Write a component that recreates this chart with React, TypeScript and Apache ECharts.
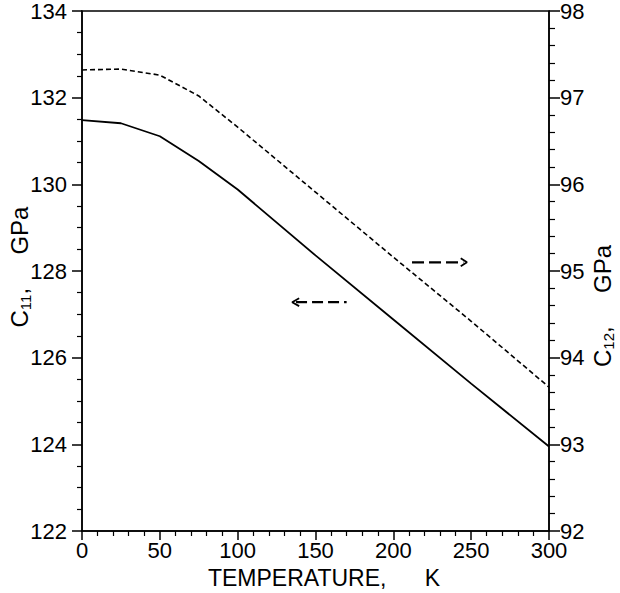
import React, { useEffect, useRef } from 'react';
import * as echarts from 'echarts';

const temperatures = [0, 25, 50, 75, 100, 150, 200, 250, 300];
const c11Values = [131.48, 131.41, 131.11, 130.54, 129.88, 128.36, 126.88, 125.4, 123.95];
const c12Values = [97.32, 97.33, 97.26, 97.02, 96.66, 95.91, 95.16, 94.42, 93.66];

const xTickValues = [0, 50, 100, 150, 200, 250, 300];
const leftTickValues = [122, 124, 126, 128, 130, 132, 134];
const rightTickValues = [92, 93, 94, 95, 96, 97, 98];

// arrow annotations (data coordinates)
const leftArrowShaft: [number, number][] = [[137.5, 127.28], [170, 127.28]];
const leftArrowHead: [number, number][] = [[139.5, 127.37], [135, 127.28], [139.5, 127.19]];
const rightArrowShaft: [number, number][] = [[212, 95.1], [245, 95.1]];
const rightArrowHead: [number, number][] = [[243.3, 95.146], [247.3, 95.1], [243.3, 95.054]];

const FONT = 'Liberation Sans';

export default function App() {
  const ref = useRef<HTMLDivElement>(null);
  useEffect(() => {
    if (!ref.current) return;
    const chart = echarts.init(ref.current, undefined, { renderer: 'svg' });
    const axisCommon = {
      type: 'value' as const,
      axisLine: { show: true, lineStyle: { color: '#000', width: 1.5 } },
      splitLine: { show: false },
      axisLabel: { color: '#000', fontSize: 22, fontFamily: FONT },
    };
    const c11Data = temperatures.map((t, i) => [t, c11Values[i]]);
    const c12Data = temperatures.map((t, i) => [t, c12Values[i]]);
    const richTitle = {
      a: { fontSize: 24, fontFamily: FONT, fill: '#000', lineHeight: 28, verticalAlign: 'middle' },
      b: { fontSize: 15, fontFamily: FONT, fill: '#000', lineHeight: 28, verticalAlign: 'bottom', padding: [10, 0, 0, 0] },
    };
    chart.setOption({
      animation: false,
      backgroundColor: '#fff',
      grid: {
        left: 82, right: 71, top: 8, bottom: 62,
        show: true, borderColor: '#000', borderWidth: 1.5,
      },
      xAxis: {
        ...axisCommon,
        min: 0, max: 300, interval: 50,
        axisTick: { show: true, length: 9, lineStyle: { color: '#000', width: 1.5 } },
        minorTick: { show: true, splitNumber: 5, length: 5, lineStyle: { color: '#000', width: 1.2 } },
        axisLabel: {
          ...axisCommon.axisLabel, margin: 8,
          formatter: (v: number) => (xTickValues.includes(v) ? String(v) : ''),
        },
      },
      yAxis: [
        {
          ...axisCommon,
          position: 'left',
          min: 122, max: 134, interval: 2,
          axisTick: { show: true, length: 10, lineStyle: { color: '#000', width: 1.5 } },
          minorTick: { show: true, splitNumber: 4, length: 5, lineStyle: { color: '#000', width: 1.2 } },
          axisLabel: {
            ...axisCommon.axisLabel, margin: 15,
            formatter: (v: number) => (leftTickValues.includes(v) ? String(v) : ''),
          },
        },
        {
          ...axisCommon,
          position: 'right',
          min: 92, max: 98, interval: 1,
          axisTick: { show: true, length: 11, lineStyle: { color: '#000', width: 1.5 } },
          minorTick: { show: true, splitNumber: 5, length: 6, lineStyle: { color: '#000', width: 1.2 } },
          axisLabel: {
            ...axisCommon.axisLabel, margin: 11,
            formatter: (v: number) => (rightTickValues.includes(v) ? String(v) : ''),
          },
        },
      ],
      series: [
        {
          type: 'line', name: 'C11', xAxisIndex: 0, yAxisIndex: 0,
          data: c11Data, showSymbol: false, symbol: 'none',
          lineStyle: { color: '#000', width: 1.8 },
        },
        {
          type: 'line', name: 'C12', xAxisIndex: 0, yAxisIndex: 1,
          data: c12Data, showSymbol: false, symbol: 'none',
          lineStyle: { color: '#000', width: 1.6, type: [5, 3] },
        },
        {
          type: 'line', xAxisIndex: 0, yAxisIndex: 0, data: leftArrowShaft, symbol: 'none',
          lineStyle: { color: '#000', width: 2.2, type: [11, 5] },
        },
        {
          type: 'line', xAxisIndex: 0, yAxisIndex: 0, data: leftArrowHead, symbol: 'none',
          lineStyle: { color: '#000', width: 1.8 },
        },
        {
          type: 'line', xAxisIndex: 0, yAxisIndex: 1, data: rightArrowShaft, symbol: 'none',
          lineStyle: { color: '#000', width: 2.2, type: [12, 5] },
        },
        {
          type: 'line', xAxisIndex: 0, yAxisIndex: 1, data: rightArrowHead, symbol: 'none',
          lineStyle: { color: '#000', width: 1.8 },
        },
      ],
      graphic: [
        {
          type: 'text', x: 324, y: 578,
          style: {
            text: 'TEMPERATURE,      K', fill: '#000', font: `23px "${FONT}"`,
            align: 'center', verticalAlign: 'middle',
          },
        },
        {
          type: 'text', x: 19, y: 267, rotation: Math.PI / 2,
          style: {
            text: '{a|C}{b|11}{a|,     GPa}',
            align: 'center', verticalAlign: 'middle',
            rich: richTitle,
          },
        },
        {
          type: 'text', x: 602, y: 306, rotation: Math.PI / 2,
          style: {
            text: '{a|C}{b|12}{a|,     GPa}',
            align: 'center', verticalAlign: 'middle',
            rich: richTitle,
          },
        },
      ],
    });
    return () => chart.dispose();
  }, []);
  return (
    <div
      ref={ref}
      style={{ position: 'fixed', left: 0, top: 0, width: 620, height: 593, background: '#fff' }}
    />
  );
}
